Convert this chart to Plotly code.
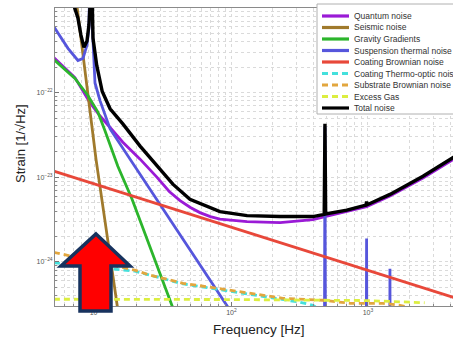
import plotly.graph_objects as go

# ---- noise budget curves (frequency in Hz, strain in 1/sqrt(Hz)) ----
f_quantum = [5.0, 7.13, 9.19, 10.9, 16.0, 21.4, 28.5, 35.0, 42.0, 50.0, 58.7, 70.0, 82.3, 130, 227, 395, 484,
             977, 1449, 2529, 4198, 5000]
h_quantum = [2.6e-22, 1.51e-22, 7.6e-23, 5.3e-23, 2.6e-23, 1.64e-23, 1.0e-23, 6.8e-24, 5.3e-24, 4.4e-24,
             3.83e-24, 3.44e-24, 3.2e-24, 2.99e-24, 2.91e-24, 3.16e-24, 3.44e-24, 4.5e-24, 6.0e-24, 9.8e-24,
             1.62e-23, 1.98e-23]

f_seismic = [7.02, 7.38, 9.19, 10.17, 11.8, 14.7, 15.5]
h_seismic = [2.0e-21, 1.06e-21, 6.1e-23, 1.64e-23, 3.16e-24, 2.9e-25, 1.5e-25]

f_gravity = [5.0, 7.13, 8.89, 10.5, 11.8, 14.7, 18.7, 25.3, 37.2, 40.0]
h_gravity = [2.45e-22, 1.47e-22, 9.2e-23, 5.9e-23, 3.6e-23, 1.35e-23, 5.5e-24, 1.5e-24, 2.9e-25, 2.1e-25]

f_suspension = [5.0, 6.34, 7.50, 8.17, 8.73, 9.03, 9.3, 9.5, 10.0, 10.9, 12.9, 21.4, 39.9, 94.2, 115,
                478, 484, 490, 965, 977, 989, 1435, 1449, 1463, 5000]
h_suspension = [6.0e-22, 3.34e-22, 2.40e-22, 2.54e-22, 3.63e-22, 5.8e-22, 1e-20, 7.6e-22, 1.3e-22, 8.0e-23,
                3.73e-23, 1.09e-23, 2.40e-24, 3.0e-25, 1.8e-25,
                5e-27, 4.0e-23, 5e-27, 1e-27, 1.9e-24, 1e-27, 4e-28, 8.3e-25, 4e-28, 2e-29]

f_coating_brownian = [5.0, 5000]
h_coating_brownian = [1.18e-23, 3.5e-25]

f_thermo_optic = [5.0, 10.9, 19.6, 44.2, 78.3, 137, 238, 318, 395, 444]
h_thermo_optic = [9.8e-25, 8.5e-25, 7.8e-25, 5.5e-25, 4.77e-25, 4.16e-25, 3.6e-25, 3.34e-25, 3.08e-25, 2.75e-25]

f_substrate = [5.0, 19.6, 25.3, 44.2, 78.3, 137, 238, 468, 738, 1288, 1714, 2000]
h_substrate = [1.3e-24, 8.0e-25, 7.0e-25, 5.6e-25, 4.9e-25, 4.27e-25, 3.72e-25, 3.53e-25, 3.25e-25,
               3.25e-25, 3.08e-25, 2.9e-25]

f_excess_gas = [5.0, 100, 1000, 2600]
h_excess_gas = [3.63e-25, 3.6e-25, 3.5e-25, 3.3e-25]

f_total = [6.0, 7.02, 7.50, 7.89, 8.30, 8.73, 9.03, 9.19, 9.3, 9.50, 9.67, 10.3, 11.3, 12.9, 16.0, 21.4,
           28.5, 37.2, 49.6, 67.3, 82.3, 130, 227, 395, 460, 478, 484, 490, 700, 965, 977, 989, 1449,
           2529, 4125, 5000]
h_total = [1e-20, 1.06e-21, 7.6e-22, 4.78e-22, 3.43e-22, 4.05e-22, 6.3e-22, 1.06e-21, 1e-20, 1.06e-21,
           4.4e-22, 2.1e-22, 1.03e-22, 6.45e-23, 4.28e-23, 2.34e-23, 1.35e-23, 8.3e-24, 5.5e-24, 4.52e-24,
           3.94e-24, 3.53e-24, 3.44e-24, 3.44e-24, 3.6e-24, 3.65e-24, 4.3e-23, 3.7e-24, 4.1e-24, 4.7e-24,
           5.15e-24, 4.75e-24, 6.28e-24, 1.03e-23, 1.68e-23, 2.04e-23]

series_names = ["Quantum noise", "Seismic noise", "Gravity Gradients", "Suspension thermal noise",
                "Coating Brownian noise", "Coating Thermo-optic noise", "Substrate Brownian noise",
                "Excess Gas", "Total noise"]

x_tick_vals = [10, 100, 1000]
x_tick_text = ["10<sup>1</sup>", "10<sup>2</sup>", "10<sup>3</sup>"]
y_tick_vals = [1e-24, 1e-23, 1e-22]
y_tick_text = ["10<sup>−24</sup>", "10<sup>−23</sup>", "10<sup>−22</sup>"]

series = [
    (f_quantum, h_quantum, "#9a1ad6", "solid", 2.8),
    (f_seismic, h_seismic, "#a07a2c", "solid", 2.8),
    (f_gravity, h_gravity, "#2cb52c", "solid", 2.8),
    (f_suspension, h_suspension, "#5656dc", "solid", 2.8),
    (f_coating_brownian, h_coating_brownian, "#e8483a", "solid", 2.8),
    (f_thermo_optic, h_thermo_optic, "#44e0dc", "6px,4px", 2.8),
    (f_substrate, h_substrate, "#e2a63e", "6px,4px", 2.8),
    (f_excess_gas, h_excess_gas, "#dcee40", "6px,4px", 2.8),
    (f_total, h_total, "#000000", "solid", 3.4),
]

fig = go.Figure()
for name, (fx, hy, color, dash, width) in zip(series_names, series):
    fig.add_trace(go.Scatter(x=fx, y=hy, mode="lines", name=name, showlegend=False,
                             line=dict(color=color, width=width, dash=dash)))

# figure geometry (pixels) used for paper-space decorations
W, H = 453, 338
ML, MR, MT, MB = 55, 0, 8, 32
PW, PH = W - ML - MR, H - MT - MB


def px(x):
    return (x - ML) / PW


def py(y):
    return (H - MB - y) / PH


# minor grid positions (2..9 per decade)
x_minor = [m * 10 ** d for d in range(0, 4) for m in range(2, 10)]
y_minor = [m * 10 ** d for d in range(-25, -21) for m in range(2, 10)]

grid = "#dadada"
fig.update_xaxes(type="log", range=[0.707, 3.623], tickvals=x_tick_vals, ticktext=x_tick_text,
                 ticks="inside", ticklen=4, tickcolor="#777", showline=True, linecolor="#8a8a8a",
                 linewidth=1, mirror=True, showgrid=True, gridcolor=grid, griddash="dot", gridwidth=1,
                 zeroline=False, tickfont=dict(size=7, color="#555", family="Liberation Sans"),
                 minor=dict(tickvals=x_minor, showgrid=True, gridcolor=grid, griddash="dot",
                            ticks="inside", ticklen=2, tickcolor="#888"))
fig.update_yaxes(type="log", range=[-24.52, -21.0], tickvals=y_tick_vals, ticktext=y_tick_text,
                 ticks="inside", ticklen=4, tickcolor="#777", showline=True, linecolor="#8a8a8a",
                 linewidth=1, showgrid=True, gridcolor=grid, griddash="dot", gridwidth=1,
                 zeroline=False, tickfont=dict(size=7, color="#555", family="Liberation Sans"),
                 minor=dict(tickvals=y_minor, showgrid=True, gridcolor=grid, griddash="dot",
                            ticks="inside", ticklen=2, tickcolor="#888"))

shapes = []
annotations = []

# legend box with line samples
shapes.append(dict(type="rect", xref="paper", yref="paper", x0=px(317), x1=px(470), y0=py(114), y1=py(4),
                   fillcolor="white", line=dict(color="#b0b0b0", width=1), layer="above"))
for i, (name, (_, _, color, dash, width)) in enumerate(zip(series_names, series)):
    yy = py(16 + i * 11.5)
    shapes.append(dict(type="line", xref="paper", yref="paper", x0=px(322), x1=px(349), y0=yy, y1=yy,
                       line=dict(color=color, width=3.2, dash=dash), layer="above"))
    annotations.append(dict(xref="paper", yref="paper", x=px(352), y=yy, text=name, showarrow=False,
                            xanchor="left", yanchor="middle",
                            font=dict(size=8.5, color="#333", family="Liberation Sans")))

# big red arrow marker
arrow_pts = [(96, 234), (130, 266), (111, 266), (111, 311), (80, 311), (80, 266), (61, 266)]
path = "M " + " L ".join(f"{px(a):.4f},{py(b):.4f}" for a, b in arrow_pts) + " Z"
shapes.append(dict(type="path", xref="paper", yref="paper", path=path, fillcolor="#ff0000",
                   line=dict(color="#17325e", width=3.5), layer="above"))

# axis titles
annotations.append(dict(xref="paper", yref="paper", x=px(259), y=py(329), text="Frequency [Hz]",
                        showarrow=False, xanchor="center", yanchor="middle",
                        font=dict(size=13.5, color="#222", family="Liberation Sans")))
annotations.append(dict(xref="paper", yref="paper", x=px(20), y=py(144), text="Strain [1/√Hz]",
                        showarrow=False, xanchor="center", yanchor="middle", textangle=-90,
                        font=dict(size=13, color="#222", family="Liberation Sans")))

fig.update_layout(width=W, height=H, margin=dict(l=ML, r=MR, t=MT, b=MB, autoexpand=False),
                  paper_bgcolor="white", plot_bgcolor="white", showlegend=False,
                  shapes=shapes, annotations=annotations)

fig.write_html("out.html")
